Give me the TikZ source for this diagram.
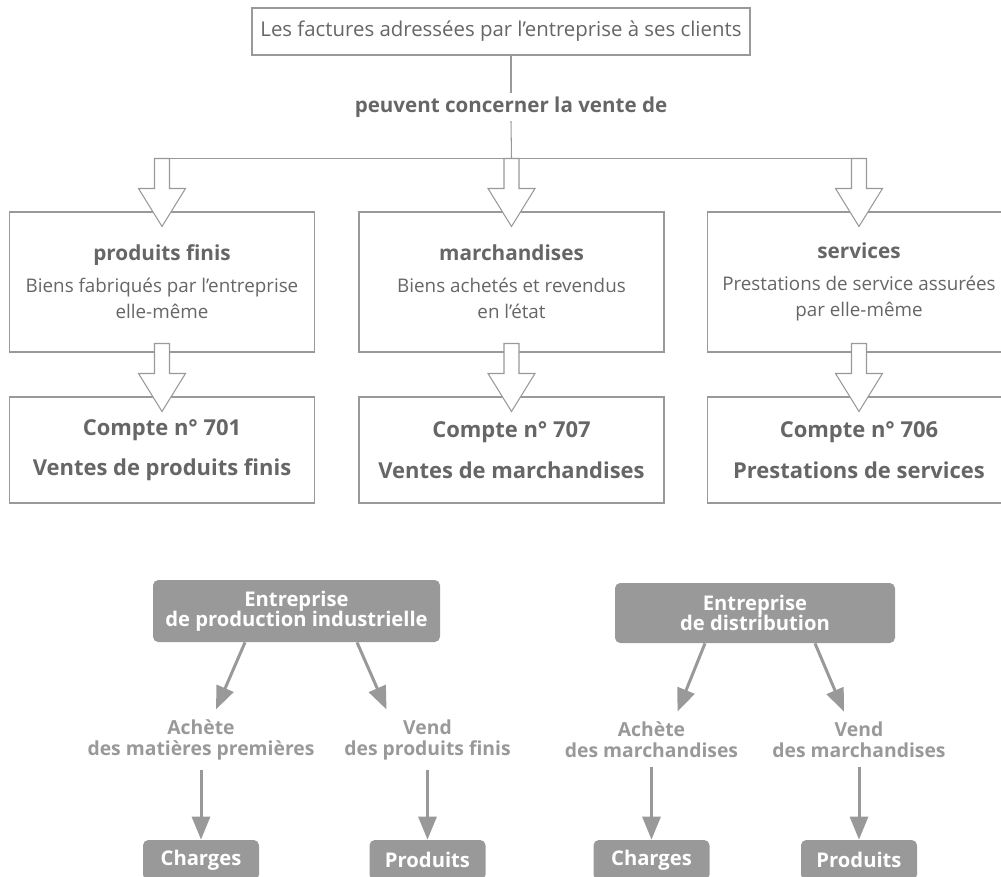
\documentclass[tikz,border=0pt]{standalone}
\usepackage{fontspec}
\setmainfont{Open Sans}
\usetikzlibrary{arrows.meta}
\definecolor{traitgris}{gray}{0.6}
\definecolor{textegris}{gray}{0.4}
\definecolor{fondgris}{gray}{0.6}
\tikzstyle{cadre} = [rectangle, draw=traitgris, fill=white, text centered, text=textegris, inner sep=0pt, line width=0.6pt]
\tikzstyle{cadrehaut} = [cadre, minimum width=9.96cm, minimum height=0.94cm, font=\fontsize{11.6}{13}\selectfont]
\tikzstyle{cadrebien} = [cadre, minimum width=6.1cm, minimum height=2.8cm, align=center, font=\fontsize{10.7}{15}\selectfont]
\tikzstyle{cadrecompte} = [cadre, minimum width=6.1cm, minimum height=2.12cm, align=center, font=\fontsize{12.5}{23}\selectfont\bfseries]
\tikzstyle{ligne} = [draw=traitgris, line width=0.6pt]
\tikzstyle{boitegrise} = [rectangle, rounded corners=3pt, fill=fondgris, text=white, align=center, font=\fontsize{11.5}{11.5}\selectfont\bfseries]
\tikzstyle{etiquette} = [text=fondgris, align=center, inner sep=0pt, font=\fontsize{11}{12}\selectfont\bfseries]
\tikzstyle{flechegrise} = [draw=fondgris, line width=0.06cm, -{Triangle[length=0.46cm,width=0.36cm]}]
\tikzset{blocfleche/.pic={
  \draw[draw=traitgris, fill=white, line width=0.6pt] (0,0) -- (-0.47,0.76) -- (-0.15,0.76) -- (-0.15,1.36)
    -- (0.15,1.36) -- (0.15,0.76) -- (0.47,0.76) -- cycle;}}

\begin{document}
\begin{tikzpicture}[node distance=3.36cm, auto]
    \useasboundingbox (0,0) rectangle (20.02,-17.54);
    % Cadres du haut
    \node (fact) [cadrehaut] at (10.02,-0.63) {Les factures adressées par l’entreprise à ses clients};
    \node (vente) [text=textegris, font=\fontsize{11.7}{13}\selectfont\bfseries, inner sep=2pt] at (10.22,-2.14) {peuvent concerner la vente de};
    \node (pf) [cadrebien] at (3.24,-5.64) {{\fontsize{11.8}{15}\selectfont\bfseries produits finis}\\[0.1cm] Biens fabriqués par l’entreprise\\ elle-même};
    \node (mc) [cadrebien] at (10.23,-5.64) {{\fontsize{11.8}{15}\selectfont\bfseries marchandises}\\[0.1cm] Biens achetés et revendus\\ en l’état};
    \node (sv) [cadrebien, minimum width=6.06cm] at (17.18,-5.64) {{\fontsize{11.8}{15}\selectfont\bfseries services}\\[0.1cm] Prestations de service assurées\\ par elle-même};
    \node (c701) [cadrecompte, below of=pf] {Compte n° 701\\ Ventes de produits finis};
    \node (c707) [cadrecompte, below of=mc] {Compte n° 707\\ Ventes de marchandises};
    \node (c706) [cadrecompte, minimum width=6.06cm, below of=sv] {Compte n° 706\\ Prestations de services};
    % Traits et fleches
    \draw[ligne] (vente.north |- fact.south) -- (vente.north);
    \draw[ligne] (vente.south) -- ([yshift=1.06cm]mc.north);
    \draw[ligne] ([xshift=-0.15cm,yshift=1.06cm]pf.north) -- ([xshift=0.15cm,yshift=1.06cm]sv.north);
    \pic at ([yshift=-0.3cm]pf.north) {blocfleche};
    \pic at ([yshift=-0.3cm]mc.north) {blocfleche};
    \pic at ([yshift=-0.3cm]sv.north) {blocfleche};
    \pic at ([yshift=-0.3cm]c701.north) {blocfleche};
    \pic at ([yshift=-0.3cm]c707.north) {blocfleche};
    \pic at ([yshift=-0.3cm]c706.north) {blocfleche};

    % Cadres du bas
    \node (ind) [boitegrise, minimum width=5.74cm, minimum height=1.24cm] at (5.93,-12.22) {Entreprise\\ de production industrielle};
    \node (dis) [boitegrise, minimum width=5.6cm, minimum height=1.2cm] at (15.1,-12.26) {Entreprise\\ de distribution};
    \node (ach1) [etiquette] at (4.02,-14.8) {Achète\\ des matières premières};
    \node (vd1) [etiquette] at (8.55,-14.8) {Vend\\ des produits finis};
    \node (ach2) [etiquette] at (13.03,-14.8) {Achète\\ des marchandises};
    \node (vd2) [etiquette] at (17.18,-14.8) {Vend\\ des marchandises};
    \node (ch1) [boitegrise, minimum width=2.32cm, minimum height=0.8cm, below of=ach1, node distance=2.4cm] {Charges};
    \node (pr1) [boitegrise, minimum width=2.32cm, minimum height=0.8cm, below of=vd1, node distance=2.4cm] {Produits};
    \node (ch2) [boitegrise, minimum width=2.32cm, minimum height=0.8cm, below of=ach2, node distance=2.4cm] {Charges};
    \node (pr2) [boitegrise, minimum width=2.32cm, minimum height=0.8cm, below of=vd2, node distance=2.4cm] {Produits};
    % Fleches grises
    \draw[flechegrise] ([xshift=-1.03cm]ind.south) -- ([xshift=0.3cm,yshift=0.2cm]ach1.north);
    \draw[flechegrise] ([xshift=1.21cm]ind.south) -- ([xshift=-0.82cm,yshift=0.2cm]vd1.north);
    \draw[flechegrise] ([xshift=-1.0cm]dis.south) -- ([xshift=0.52cm,yshift=0.2cm]ach2.north);
    \draw[flechegrise] ([xshift=1.2cm]dis.south) -- ([xshift=-0.3cm,yshift=0.2cm]vd2.north);
    \draw[flechegrise, shorten <=0.18cm] (ach1) -- (ch1);
    \draw[flechegrise, shorten <=0.18cm] (vd1) -- (pr1);
    \draw[flechegrise, shorten <=0.18cm] (ach2) -- (ch2);
    \draw[flechegrise, shorten <=0.18cm] (vd2) -- (pr2);
\end{tikzpicture}
\end{document}
